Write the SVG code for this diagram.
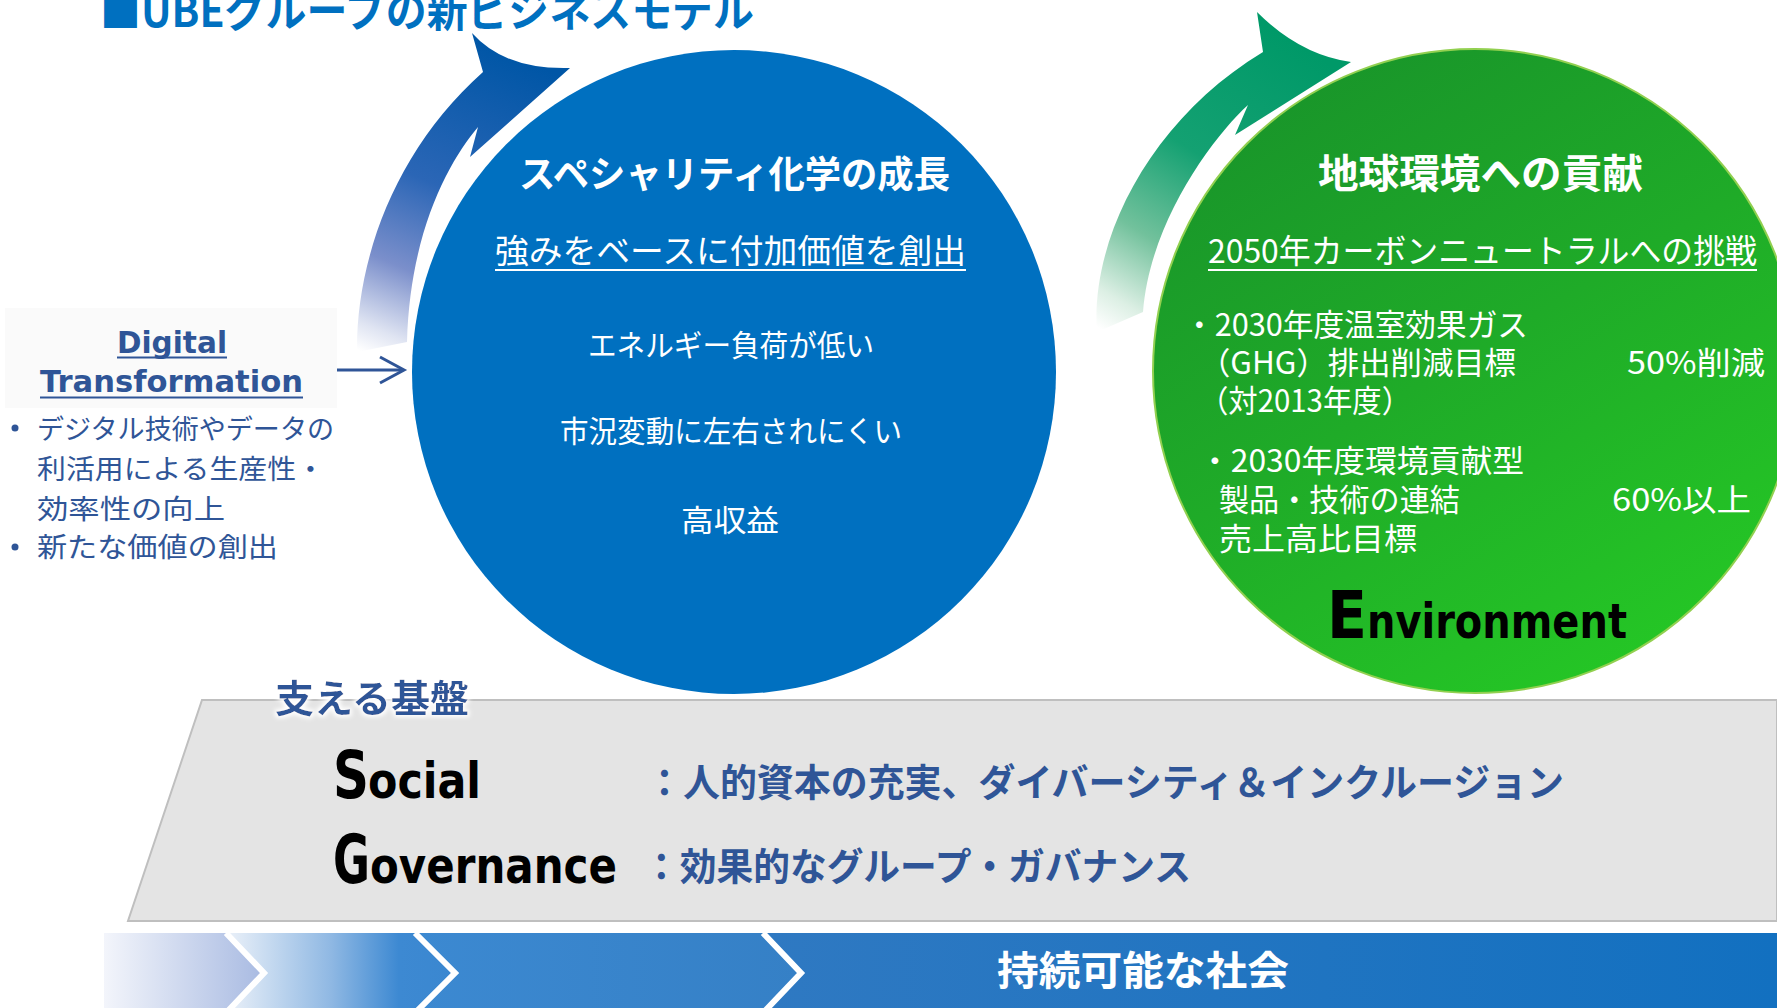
<svg xmlns="http://www.w3.org/2000/svg" width="1777" height="1008" viewBox="0 0 1777 1008">
<style>
.jp{font-family:"Noto Sans CJK JP","Noto Sans",sans-serif}
.lat{font-family:"DejaVu Sans","Liberation Sans",sans-serif;font-weight:700}
.b{font-weight:700}
.w{fill:#fff}
.navy{fill:#2f5597}
.ul{stroke:#fff;stroke-width:2}
.sep{fill:none;stroke:#fff;stroke-width:6}
</style>
<defs>
<linearGradient id="gBlueArrow" gradientUnits="userSpaceOnUse" x1="500" y1="50" x2="370" y2="355">
<stop offset="0" stop-color="#0056a6"/><stop offset="0.45" stop-color="#2b66b6"/><stop offset="0.72" stop-color="#7b8fcb"/><stop offset="0.92" stop-color="#dfe4f2"/><stop offset="1" stop-color="#ffffff"/>
</linearGradient>
<linearGradient id="gGreenArrow" gradientUnits="userSpaceOnUse" x1="1290" y1="40" x2="1110" y2="335">
<stop offset="0" stop-color="#009968"/><stop offset="0.42" stop-color="#14a172"/><stop offset="0.7" stop-color="#72c19c"/><stop offset="0.9" stop-color="#dcefe4"/><stop offset="1" stop-color="#ffffff"/>
</linearGradient>
<linearGradient id="gGreen" x1="0.15" y1="0" x2="0.75" y2="1">
<stop offset="0" stop-color="#18922a"/><stop offset="0.5" stop-color="#1fab28"/><stop offset="1" stop-color="#25c825"/>
</linearGradient>
<linearGradient id="gS1" gradientUnits="userSpaceOnUse" x1="104" y1="0" x2="262" y2="0">
<stop offset="0" stop-color="#f3f5fb"/><stop offset="1" stop-color="#a9bbe2"/>
</linearGradient>
<linearGradient id="gS2" gradientUnits="userSpaceOnUse" x1="230" y1="0" x2="455" y2="0">
<stop offset="0" stop-color="#e8eff8"/><stop offset="0.45" stop-color="#8fb8e3"/><stop offset="0.75" stop-color="#3d89d2"/><stop offset="1" stop-color="#3a87d0"/>
</linearGradient>
<linearGradient id="gS3" gradientUnits="userSpaceOnUse" x1="415" y1="0" x2="801" y2="0">
<stop offset="0" stop-color="#3c89d1"/><stop offset="1" stop-color="#3580c6"/>
</linearGradient>
<linearGradient id="gS4" gradientUnits="userSpaceOnUse" x1="763" y1="0" x2="1777" y2="0">
<stop offset="0" stop-color="#2f79c2"/><stop offset="1" stop-color="#1270c0"/>
</linearGradient>
<filter id="glow" x="-10%" y="-30%" width="120%" height="160%">
<feMorphology in="SourceAlpha" operator="dilate" radius="2" result="d"/>
<feGaussianBlur in="d" stdDeviation="2" result="bl"/>
<feFlood flood-color="#ffffff"/>
<feComposite in2="bl" operator="in" result="g"/>
<feMerge><feMergeNode in="g"/><feMergeNode in="SourceGraphic"/></feMerge>
</filter>
</defs>

<rect width="1777" height="1008" fill="#ffffff"/>

<g id="title">
<text class="jp b" x="100" y="27" font-size="44" fill="#0070c0" textLength="654" lengthAdjust="spacingAndGlyphs">■UBEグループの新ビジネスモデル</text>
</g>

<g id="connectors">
<path d="M357,352 C356,260 395,150 483,72 L472,33 Q505,70 570,68 L470,157 L478,127 C450,160 410,230 407,342 Z" fill="url(#gBlueArrow)"/>
<path d="M1097,332 C1090,240 1150,120 1263,52 L1257,12 Q1300,55 1351,62 L1235,135 L1248,105 C1215,135 1150,220 1143,312 Z" fill="url(#gGreenArrow)"/>
<g stroke="#2f5597" stroke-width="3" fill="none">
<line x1="327" y1="370" x2="403" y2="370"/>
<polyline points="380,357 404,370 380,383"/>
</g>
</g>

<g id="digital-transformation">
<rect x="5" y="308" width="332" height="100" fill="#fafafa"/>
<text class="lat navy" x="117" y="353" font-size="30" textLength="110" lengthAdjust="spacingAndGlyphs">Digital</text>
<line x1="117" y1="357.5" x2="227" y2="357.5" stroke="#2f5597" stroke-width="2"/>
<text class="lat navy" x="40" y="392" font-size="30" textLength="263" lengthAdjust="spacingAndGlyphs">Transformation</text>
<line x1="40" y1="397.5" x2="303" y2="397.5" stroke="#2f5597" stroke-width="2"/>
<circle cx="15" cy="428" r="3.5" fill="#2f5597"/>
<text class="jp navy" x="37" y="439" font-size="27" textLength="297" lengthAdjust="spacingAndGlyphs">デジタル技術やデータの</text>
<text class="jp navy" x="37" y="479" font-size="27" textLength="288" lengthAdjust="spacingAndGlyphs">利活用による生産性・</text>
<text class="jp navy" x="37" y="519" font-size="27" textLength="188" lengthAdjust="spacingAndGlyphs">効率性の向上</text>
<circle cx="15" cy="547" r="3.5" fill="#2f5597"/>
<text class="jp navy" x="37" y="557" font-size="27" textLength="241" lengthAdjust="spacingAndGlyphs">新たな価値の創出</text>
</g>

<g id="specialty">
<circle cx="734" cy="372" r="322" fill="#0070c0"/>
<text class="jp b w" x="519" y="188" font-size="37" textLength="431" lengthAdjust="spacingAndGlyphs">スペシャリティ化学の成長</text>
<text class="jp w" x="495" y="263" font-size="33" textLength="471" lengthAdjust="spacingAndGlyphs">強みをベースに付加価値を創出</text>
<line class="ul" x1="495" y1="270" x2="966" y2="270"/>
<text class="jp w" x="588" y="356" font-size="30" textLength="286" lengthAdjust="spacingAndGlyphs">エネルギー負荷が低い</text>
<text class="jp w" x="560" y="442" font-size="30" textLength="342" lengthAdjust="spacingAndGlyphs">市況変動に左右されにくい</text>
<text class="jp w" x="681" y="531" font-size="30" textLength="98" lengthAdjust="spacingAndGlyphs">高収益</text>
</g>

<g id="environment">
<circle cx="1475" cy="371" r="322" fill="url(#gGreen)" stroke="#92d050" stroke-width="2"/>
<text class="jp b w" x="1318" y="188" font-size="40" textLength="325" lengthAdjust="spacingAndGlyphs">地球環境への貢献</text>
<text class="jp w" x="1208" y="263" font-size="33" textLength="549" lengthAdjust="spacingAndGlyphs">2050年カーボンニュートラルへの挑戦</text>
<line class="ul" x1="1208" y1="270" x2="1757" y2="270"/>
<text class="jp w" x="1184" y="336" font-size="31" textLength="344" lengthAdjust="spacingAndGlyphs">・2030年度温室効果ガス</text>
<text class="jp w" x="1199" y="374" font-size="31" textLength="317" lengthAdjust="spacingAndGlyphs">（GHG）排出削減目標</text>
<text class="jp w" x="1627" y="374" font-size="31" textLength="138" lengthAdjust="spacingAndGlyphs">50%削減</text>
<text class="jp w" x="1199" y="412" font-size="31" textLength="212" lengthAdjust="spacingAndGlyphs">（対2013年度）</text>
<text class="jp w" x="1199" y="472" font-size="31" textLength="325" lengthAdjust="spacingAndGlyphs">・2030年度環境貢献型</text>
<text class="jp w" x="1219" y="511" font-size="31" textLength="241" lengthAdjust="spacingAndGlyphs">製品・技術の連結</text>
<text class="jp w" x="1612" y="511" font-size="31" textLength="139" lengthAdjust="spacingAndGlyphs">60%以上</text>
<text class="jp w" x="1219" y="550" font-size="31" textLength="198" lengthAdjust="spacingAndGlyphs">売上高比目標</text>
<text class="lat" x="1327" y="638" font-size="66" fill="#000" textLength="40" lengthAdjust="spacingAndGlyphs">E</text>
<text class="lat" x="1367" y="638" font-size="48" fill="#000" textLength="260" lengthAdjust="spacingAndGlyphs">nvironment</text>
</g>

<g id="foundation">
<polygon points="202,700 1777,700 1777,921 128,921" fill="#e4e4e4" stroke="#bfbfbf" stroke-width="2"/>
<text class="jp b navy" x="275" y="712" font-size="38" textLength="194" lengthAdjust="spacingAndGlyphs" filter="url(#glow)">支える基盤</text>
<text class="lat" x="333" y="798" font-size="66" fill="#000" textLength="36" lengthAdjust="spacingAndGlyphs">S</text>
<text class="lat" x="368" y="798" font-size="50" fill="#000" textLength="113" lengthAdjust="spacingAndGlyphs">ocial</text>
<text class="jp b navy" x="646" y="796" font-size="38" textLength="918" lengthAdjust="spacingAndGlyphs">：人的資本の充実、ダイバーシティ＆インクルージョン</text>
<text class="lat" x="333" y="883" font-size="68" fill="#000" textLength="37" lengthAdjust="spacingAndGlyphs">G</text>
<text class="lat" x="370" y="883" font-size="50" fill="#000" textLength="247" lengthAdjust="spacingAndGlyphs">overnance</text>
<text class="jp b navy" x="643" y="880" font-size="38" textLength="548" lengthAdjust="spacingAndGlyphs">：効果的なグループ・ガバナンス</text>
</g>

<g id="sustainable-society">
<polygon points="104,933 226,933 264,973 226,1013 104,1013" fill="url(#gS1)"/>
<polygon points="226,933 415,933 455,973 415,1013 226,1013 264,973" fill="url(#gS2)"/>
<polygon points="415,933 763,933 801,973 763,1013 415,1013 455,973" fill="url(#gS3)"/>
<polygon points="763,933 1777,933 1777,1013 763,1013 801,973" fill="url(#gS4)"/>
<polyline class="sep" points="226,933 264,973 226,1013"/>
<polyline class="sep" points="415,933 455,973 415,1013"/>
<polyline class="sep" points="763,933 801,973 763,1013"/>
<text class="jp b w" x="997" y="985" font-size="40" textLength="292" lengthAdjust="spacingAndGlyphs">持続可能な社会</text>
</g>
</svg>
